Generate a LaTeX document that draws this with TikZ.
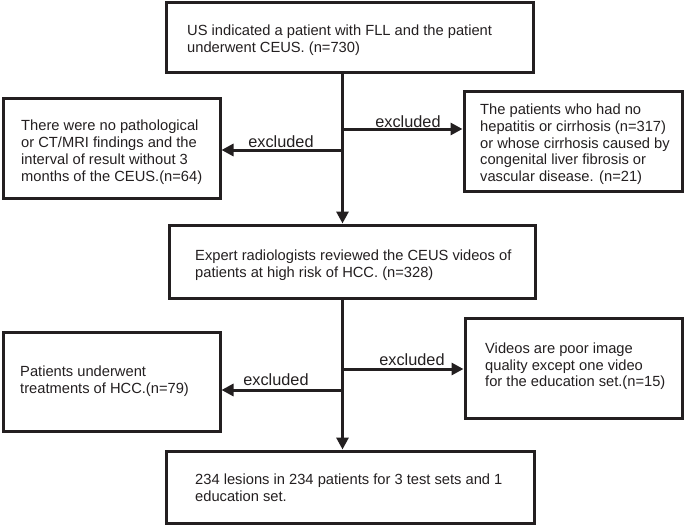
\documentclass[tikz,border=0pt]{standalone}
\usepackage{fontspec}
\setmainfont{Liberation Sans}
\usetikzlibrary{arrows.meta}
\definecolor{ink}{RGB}{35,31,32}
\begin{document}
\begin{tikzpicture}[x=1pt,y=-1pt,
  box/.style={draw=ink, line width=3pt, inner sep=0pt},
  txt/.style={inner sep=0pt, align=left, text=ink, font=\fontsize{14.7}{16.8}\selectfont, anchor=west},
  lbl/.style={inner sep=0pt, text=ink, font=\fontsize{16.3}{18}\selectfont, anchor=base},
  arr/.style={draw=ink, line width=3pt, -{Triangle[length=12pt,width=12pt]}}]
\useasboundingbox (0,0) rectangle (685,525);
% boxes
\node[box, minimum width=367pt, minimum height=70pt] (top) at (349.5,37) {};
\node[txt] (toptxt) at (187,40.2) {US indicated a patient with FLL and the patient\\underwent CEUS. (n=730)};
\node[box, minimum width=217pt, minimum height=100pt] (l1) at (111.5,148) {};
\node[txt] (l1txt) at (21,152.2) {There were no pathological\\or CT/MRI findings and the\\interval of result without 3\\months of the CEUS.(n=64)};
\node[box, minimum width=218pt, minimum height=100pt] (r1) at (573,141) {};
\node[txt] (r1txt) at (480,144.2) {The patients who had no\\hepatitis or cirrhosis (n=317)\\or whose cirrhosis caused by\\congenital liver fibrosis or\\vascular disease. (n=21)};
\node[box, minimum width=366pt, minimum height=73pt] (mid) at (352,261.5) {};
\node[txt] (midtxt) at (195,264.8) {Expert radiologists reviewed the CEUS videos of\\patients at high risk of HCC. (n=328)};
\node[box, minimum width=217pt, minimum height=99pt] (l2) at (111.5,381.5) {};
\node[txt] (l2txt) at (20,381.2) {Patients underwent\\treatments of HCC.(n=79)};
\node[box, minimum width=217pt, minimum height=100pt] (r2) at (573.5,368) {};
\node[txt] (r2txt) at (485,366.2) {Videos are poor image\\quality except one video\\for the education set.(n=15)};
\node[box, minimum width=368pt, minimum height=72pt] (bot) at (350,487) {};
\node[txt] (bottxt) at (195,487.5) {234 lesions in 234 patients for 3 test sets and 1\\education set.};
% spine coordinates
\coordinate (sx) at (342.5,0);
\coordinate (b1r) at (342.5,129);
\coordinate (b1l) at (342.5,150);
\coordinate (b2r) at (342.5,369);
\coordinate (b2l) at (342.5,390);
% connectors
\draw[arr] (top.south -| sx) -- (mid.north -| sx);
\draw[arr] (b1r) -- (b1r -| r1.west);
\draw[arr] (b1l) -- (b1l -| l1.east);
\draw[arr] (mid.south -| sx) -- (bot.north -| sx);
\draw[arr] (b2r) -- (b2r -| r2.west);
\draw[arr] (b2l) -- (b2l -| l2.east);
% labels
\node[lbl] (e1r) at (408,127) {excluded};
\node[lbl] (e1l) at (281,147) {excluded};
\node[lbl] (e2r) at (412,365) {excluded};
\node[lbl] (e2l) at (276,385) {excluded};
\end{tikzpicture}
\end{document}
